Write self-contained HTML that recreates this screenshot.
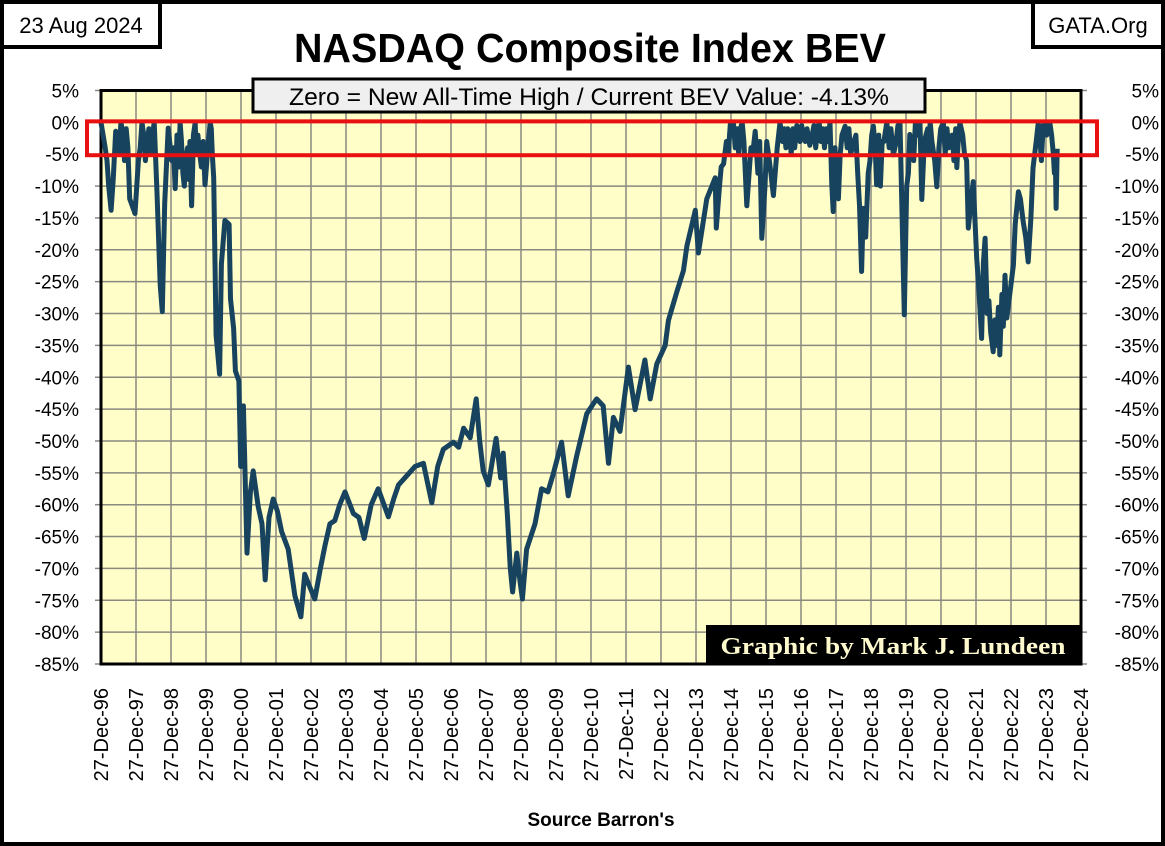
<!DOCTYPE html>
<html><head><meta charset="utf-8"><style>
html,body{margin:0;padding:0;background:#fff}
svg{display:block}
</style></head><body>
<svg id="chart" width="1165" height="846" viewBox="0 0 1165 846" font-family="Liberation Sans, sans-serif">
<rect x="2" y="2" width="1161" height="842" fill="#fff" stroke="#000" stroke-width="4"/>
<g id="plot"></g>
<rect x="2" y="2" width="158" height="45" fill="#fff" stroke="#000" stroke-width="4"/>
<text x="81" y="33" font-size="22" text-anchor="middle">23 Aug 2024</text>
<rect x="1033" y="2" width="130" height="45" fill="#fff" stroke="#000" stroke-width="4"/>
<text x="1098" y="33" font-size="22" text-anchor="middle">GATA.Org</text>
<text x="590" y="62" font-size="41" font-weight="bold" text-anchor="middle" textLength="592" lengthAdjust="spacingAndGlyphs">NASDAQ Composite Index BEV</text>
<text x="601" y="826" font-size="19" font-weight="bold" text-anchor="middle">Source Barron's</text>
</svg>
<script>
const years=[1996.98,1997.1,1997.27,1997.4,1997.55,1997.7,1997.8,1997.95,1998.05,1998.15,1998.3,1998.5,1998.58,1998.67,1998.73,1998.8,1998.9,1999.0,1999.1,1999.24,1999.36,1999.45,1999.57,1999.67,1999.8,1999.95,2000.1,2000.2,2000.27,2000.37,2000.42,2000.52,2000.64,2000.68,2000.77,2000.82,2000.92,2000.97,2001.05,2001.15,2001.25,2001.33,2001.47,2001.58,2001.67,2001.78,2001.9,2002.02,2002.14,2002.33,2002.52,2002.69,2002.8,2002.95,2003.09,2003.25,2003.38,2003.52,2003.66,2003.8,2003.95,2004.19,2004.35,2004.5,2004.7,2004.9,2005.19,2005.35,2005.48,2005.76,2005.95,2006.19,2006.43,2006.6,2006.76,2007.05,2007.2,2007.34,2007.53,2007.7,2007.8,2007.9,2008.05,2008.27,2008.4,2008.47,2008.59,2008.67,2008.74,2008.86,2008.95,2009.02,2009.14,2009.38,2009.57,2009.75,2009.9,2010.14,2010.33,2010.57,2010.86,2011.14,2011.33,2011.48,2011.62,2011.81,2012.05,2012.24,2012.52,2012.67,2012.86,2013.1,2013.19,2013.43,2013.62,2013.72,2013.96,2014.05,2014.29,2014.53,2014.56,2014.77,2014.96,2015.05,2015.3,2015.43,2015.55,2015.67,2015.86,2016.06,2016.19,2016.38,2016.6,2016.86,2017.05,2017.23,2017.5,2017.81,2017.86,2018.0,2018.24,2018.47,2018.71,2018.76,2018.9,2019.05,2019.14,2019.3,2019.43,2019.62,2019.81,2019.86,2019.93,2020.0,2020.09,2020.25,2020.38,2020.43,2020.55,2020.67,2020.86,2021.05,2021.25,2021.43,2021.52,2021.71,2021.76,2021.9,2022.0,2022.14,2022.24,2022.35,2022.47,2022.62,2022.66,2022.81,2022.86,2023.05,2023.19,2023.33,2023.47,2023.61,2023.76,2023.95,2024.09,2024.19,2024.27,2024.3];
const values=[0,-4,-13.8,-1.4,0,-1,-12,-14.3,-6,0,-3,0,-11,-25.5,-29.7,-12.7,-0.9,-6,-10.4,0,-10,-4,-13.1,0,-5,-9.8,0,-8.7,-33.4,-39.5,-22.2,-15.4,-16,-27.7,-32.3,-39,-40.6,-54,-44.5,-67.6,-58,-54.7,-60.3,-63,-71.8,-62,-59.1,-61,-64.2,-67,-74.3,-77.6,-70.9,-73,-74.8,-70,-66.4,-63,-62.5,-60,-58,-61.4,-62,-65.3,-60,-57.5,-61.9,-59,-56.9,-55.2,-54,-53.5,-59.7,-54,-51.3,-50.2,-51,-48,-49.5,-43.4,-50,-54.7,-56.9,-49.6,-55.8,-51.9,-61.4,-69.8,-73.7,-67.6,-72,-74.8,-67,-63,-57.5,-58,-55.2,-50.2,-58.6,-52.4,-45.7,-43.4,-44.5,-53.5,-46.3,-48.5,-38.4,-45.1,-37.3,-43.4,-37.9,-35,-31.1,-26.6,-23.3,-19.4,-13.8,-20.5,-12,-8.7,-16.6,-6.5,-0.3,0,0,-13.1,-4,-1.4,-18.2,-5.3,-11.5,0,-1,-0.5,-2,-3.6,0,0,-9.8,-8.3,-0.6,-3.4,-23.4,-13.5,-8,-0.6,-9.8,-3,0,-5.1,0,-12.7,-30.2,-10,-1.9,0,0,-12.1,-2,0,-10.1,0,-3,-7.1,0,-6,-16.6,-9.3,-21.3,-33.9,-18.2,-28,-36,-29,-36.5,-24,-30.7,-22.4,-10.9,-15.6,-21.9,-7.2,0,0,0,-5.1,-13.5,-4.13];
const detailYears=[1997.15,1997.2,1997.33,1997.45,1997.5,1997.62,1997.65,1997.75,1998.1,1998.2,1998.25,1998.35,1998.4,1998.45,1999.05,1999.15,1999.2,1999.28,1999.32,1999.4,1999.5,1999.52,1999.6,1999.62,1999.7,1999.75,1999.85,1999.9,2000.05,2000.13,2000.16,2014.65,2014.7,2014.85,2014.9,2015.1,2015.15,2015.2,2015.25,2015.35,2015.6,2015.75,2015.8,2015.95,2016.0,2016.12,2016.3,2016.45,2016.5,2016.55,2016.65,2016.7,2016.75,2016.8,2016.95,2017.0,2017.1,2017.15,2017.3,2017.35,2017.4,2017.45,2017.55,2017.6,2017.65,2017.7,2017.75,2017.9,2017.95,2018.05,2018.1,2018.15,2018.3,2018.35,2018.4,2018.55,2018.6,2018.65,2018.83,2018.95,2019.0,2019.1,2019.2,2019.25,2019.35,2019.5,2019.55,2019.7,2019.75,2020.05,2020.15,2020.2,2020.3,2020.48,2020.5,2020.6,2020.62,2020.72,2020.8,2020.92,2020.97,2021.1,2021.15,2021.2,2021.3,2021.35,2021.4,2021.47,2021.6,2021.65,2022.05,2022.1,2022.19,2022.3,2022.4,2022.52,2022.57,2022.72,2022.76,2023.1,2023.25,2023.4,2023.55,2023.7,2023.8,2023.85,2023.9,2024.0,2024.05,2024.14,2024.22,2024.25];
const detailValues=[-6,-10,-9,-3,-5,-2,-6,-4,-4,-2,-6,-1,-5,-2,-4,-2,-7,-3,-8,-6,-9,-3,-7,-2,-5,-2,-7,-3,-3,-1,-5,-10,-7,-3,-5,-4,-1,-5,-1,-3,-5,-8,-3,-10,-3,-8,-4,-3,-1,-4,-2,-5,-1,-4,-3,-0.5,-3,-1,-2,-0.5,-4,-1,-3,-1,-4,-1,-3,-14,-4,-12,-5,-2,-4,-1,-5,-2,-8,-13,-18,-6,-2,-4,-2,-10,-3,-4,-1,-3,-0.5,-8,-3,-6,-2,-6,-3,-1,-5,-3,-6,-4,-1,-5,-1,-4,-2,-6,-1,-3,-2,-5,-25,-30,-22,-30,-33,-31,-35,-27,-32,-16,-12,-18,-15,-3,-2,-6,-0.5,-2,-0.5,-2,-8,-6];
const yTicks=[5,0,-5,-10,-15,-20,-25,-30,-35,-40,-45,-50,-55,-60,-65,-70,-75,-80,-85];
const xTickYears=[96,97,98,99,0,1,2,3,4,5,6,7,8,9,10,11,12,13,14,15,16,17,18,19,20,21,22,23,24];

const NS='http://www.w3.org/2000/svg';
const L=101,R=1081,T=90.5,B=664;
const X0=1996.98,X1=2024.98;
function xs(t){return L+(t-X0)/(X1-X0)*(R-L);}
function ys(v){return T+(5-v)/90*(B-T);}
const plot=document.getElementById('plot');
function mk(tag,attrs){const e=document.createElementNS(NS,tag);for(const k in attrs)e.setAttribute(k,attrs[k]);plot.appendChild(e);return e;}

const bg=mk('rect',{x:L,y:T,width:R-L,height:B-T,fill:'#fffdc8'});



yTicks.forEach(v=>{
  const y=ys(v);
  const g=mk('line',{x1:L,x2:R,y1:y,y2:y,stroke:'#8a8a80','stroke-width':1.5});
  
  
  const tl=mk('line',{x1:L-6,x2:L,y1:y,y2:y,stroke:'#888','stroke-width':1.5});
  
  
  const tr=mk('line',{x1:R,x2:R+6,y1:y,y2:y,stroke:'#888','stroke-width':1.5});
  
  
  const a=mk('text',{x:79,y:y+7,'font-size':19,'text-anchor':'end'});
  a.textContent=v+'%';
  
  
  const b=mk('text',{x:1159,y:y+7,'font-size':19,'text-anchor':'end'});
  b.textContent=v+'%';
  
  
});
xTickYears.forEach(yy=>{
  const t=X0+((yy<50?yy+100:yy)-96);
  const x=xs(t);
  const g=mk('line',{x1:x,x2:x,y1:T,y2:B,stroke:'#8a8a80','stroke-width':1.5});
  
  
  const lb=mk('text',{x:0,y:0,'font-size':20,'text-anchor':'end',transform:'translate('+(x+7)+',688) rotate(-90)'});
  lb.textContent='27-Dec-'+String(yy).padStart(2,'0');
  
  
});
const fr=mk('rect',{x:L,y:T,width:R-L,height:B-T,fill:'none',stroke:'#000','stroke-width':3});



const pts=years.map((t,i)=>[t,values[i]]).concat(detailYears.map((t,i)=>[t,detailValues[i]])).filter(p=>typeof p[1]==='number');
pts.sort((a,b)=>a[0]-b[0]);
let d='';
pts.forEach((p,i)=>{d+=(i?'L':'M')+xs(p[0]).toFixed(1)+','+ys(p[1]).toFixed(1);});
const line=mk('path',{d:d,fill:'none',stroke:'#17435f','stroke-width':5,'stroke-linejoin':'round'});



const rb=mk('rect',{x:87,y:ys(0)-1,width:1010,height:ys(-5)-ys(0)+2,fill:'none',stroke:'#e81010','stroke-width':4});



const sb=mk('rect',{x:253,y:79,width:672,height:33,fill:'#efefef',stroke:'#000','stroke-width':3});


const st=mk('text',{x:589,y:105,'font-size':24,'text-anchor':'middle',textLength:600,lengthAdjust:'spacingAndGlyphs'});
st.textContent='Zero = New All-Time High / Current  BEV Value:  -4.13%';



const cb=mk('rect',{x:706,y:625,width:375,height:39,fill:'#000'});


const ct=mk('text',{x:893,y:654,'font-size':24,'font-weight':'bold','text-anchor':'middle',fill:'#fffacd','font-family':'Liberation Serif, serif',textLength:345,lengthAdjust:'spacingAndGlyphs'});
ct.textContent='Graphic by Mark J. Lundeen';


</script>
</body></html>
